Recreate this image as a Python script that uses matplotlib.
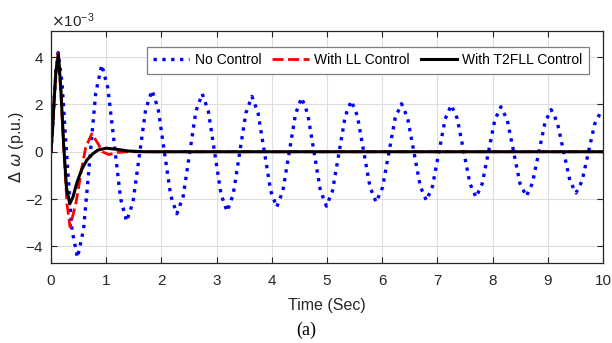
import numpy as np
import matplotlib
matplotlib.use("Agg")
import matplotlib.pyplot as plt
from matplotlib.ticker import ScalarFormatter

plt.rcParams['font.family'] = ['Liberation Sans', 'DejaVu Sans']
plt.rcParams['mathtext.fontset'] = 'dejavusans'
plt.rcParams['axes.unicode_minus'] = False

# values in units of 1e-3 p.u.
t_no = [0.00, 0.03, 0.06, 0.09, 0.13, 0.20, 0.28, 0.38, 0.48, 0.59, 0.70, 0.81, 0.92,
        1.03, 1.145, 1.26, 1.37, 1.485, 1.60, 1.715, 1.83, 1.94, 2.055, 2.17, 2.28,
        2.395, 2.51, 2.625, 2.74, 2.85, 2.965, 3.08, 3.19, 3.30, 3.415, 3.53, 3.64,
        3.75, 3.865, 3.98, 4.09, 4.20, 4.315, 4.43, 4.54, 4.65, 4.765, 4.88, 4.99,
        5.10, 5.215, 5.33, 5.44, 5.55, 5.665, 5.78, 5.89, 6.005, 6.12, 6.235, 6.35,
        6.46, 6.575, 6.69, 6.80, 6.91, 7.025, 7.14, 7.25, 7.36, 7.475, 7.59, 7.70,
        7.81, 7.925, 8.04, 8.15, 8.265, 8.38, 8.495, 8.61, 8.72, 8.835, 8.95, 9.06,
        9.17, 9.285, 9.40, 9.51, 9.62, 9.735, 9.85, 9.96, 10.0]
w_no = [0.0, 1.0, 2.3, 3.4, 4.19, 2.9, 0.0, -3.3, -4.47, -3.28, -0.40, 2.48, 3.67,
        2.70, 0.37, -1.97, -2.94, -2.13, -0.18, 1.78, 2.59, 1.83, -0.02, -1.86, -2.62,
        -1.88, -0.09, 1.71, 2.45, 1.72, -0.04, -1.79, -2.52, -1.81, -0.09, 1.63, 2.34,
        1.65, 0.00, -1.65, -2.34, -1.66, -0.03, 1.60, 2.28, 1.61, -0.01, -1.63, -2.30,
        -1.65, -0.08, 1.50, 2.15, 1.52, 0.01, -1.50, -2.13, -1.52, -0.05, 1.42, 2.03,
        1.43, -0.02, -1.46, -2.06, -1.47, -0.05, 1.38, 1.97, 1.40, 0.03, -1.35, -1.92,
        -1.36, -0.01, 1.34, 1.90, 1.35, 0.01, -1.33, -1.88, -1.34, -0.05, 1.24, 1.78,
        1.26, 0.02, -1.22, -1.74, -1.24, -0.03, 1.18, 1.68, 1.67]

t_ll = [0.00, 0.03, 0.06, 0.09, 0.13, 0.18, 0.23, 0.29, 0.345, 0.45, 0.55, 0.63,
        0.74, 0.85, 0.93, 1.05, 1.20, 1.40, 10.0]
w_ll = [0.0, 1.0, 2.3, 3.4, 4.15, 2.5, 0.2, -2.2, -3.17, -2.2, -0.8, 0.2,
        0.76, 0.35, 0.0, -0.12, -0.03, 0.0, 0.0]

t_t2 = [0.00, 0.03, 0.06, 0.09, 0.135, 0.18, 0.23, 0.28, 0.34, 0.40, 0.47, 0.56,
        0.65, 0.75, 0.85, 1.00, 1.20, 1.40, 1.70, 10.0]
w_t2 = [0.0, 1.0, 2.3, 3.4, 4.1, 2.6, 0.3, -1.5, -2.2, -1.9, -1.3, -0.73,
        -0.35, -0.1, 0.07, 0.15, 0.1, 0.03, 0.0, 0.0]

labels = ['No Control', 'With LL Control', 'With T2FLL Control']
xticks = list(range(0, 11))
yticks = [-4e-3, -2e-3, 0, 2e-3, 4e-3]

fig = plt.figure(figsize=(6.12, 3.43), dpi=100)
ax = fig.add_axes([0.0833, 0.2332, 0.9020, 0.6764])

ax.plot(t_no, np.array(w_no) * 1e-3, color='#0000ff', linestyle=':', linewidth=2.4, label=labels[0])
ax.plot(t_ll, np.array(w_ll) * 1e-3, color='#ff0000', linestyle=(0, (4, 1.6)), linewidth=2.0, label=labels[1])
ax.plot(t_t2, np.array(w_t2) * 1e-3, color='black', linestyle='-', linewidth=2.2, label=labels[2])

ax.set_xlim(0, 10)
ax.set_ylim(-4.7e-3, 5.1e-3)
ax.set_xticks(xticks)
ax.set_yticks(yticks)
fmt = ScalarFormatter(useMathText=True)
fmt.set_powerlimits((-2, 2))
ax.yaxis.set_major_formatter(fmt)
ax.yaxis.get_offset_text().set_fontsize(11)
ax.yaxis.get_offset_text().set_color('#262626')

ax.grid(True, color='#dedede', linewidth=0.8)
ax.tick_params(direction='in', length=4, width=0.8, top=True, right=True,
               labelsize=11, colors='#262626')
ax.tick_params(axis='x', pad=8)
ax.tick_params(axis='y', pad=5)
for s in ax.spines.values():
    s.set_linewidth(0.9)
    s.set_color('#262626')

ax.set_xlabel('Time (Sec)', fontsize=11.5, color='#262626', labelpad=7)
ax.set_ylabel(r'$\Delta\ \omega$ (p.u.)', fontsize=11.5, color='#262626')
ax.yaxis.set_label_coords(-0.046, 0.5)

leg = ax.legend(loc='upper right', ncol=3, fontsize=10, frameon=True, fancybox=False,
                edgecolor='#7f7f7f', handlelength=2.6, handletextpad=0.4, columnspacing=0.8,
                borderpad=0.45, borderaxespad=0, bbox_to_anchor=(0.9746, 0.931), framealpha=1)
leg.get_frame().set_linewidth(0.9)

fig.text(0.5, 1 - 330 / 343, '(a)', ha='center', va='center', fontsize=13,
         family=['Liberation Serif', 'DejaVu Serif'])

fig.savefig('out.png', dpi=100)
